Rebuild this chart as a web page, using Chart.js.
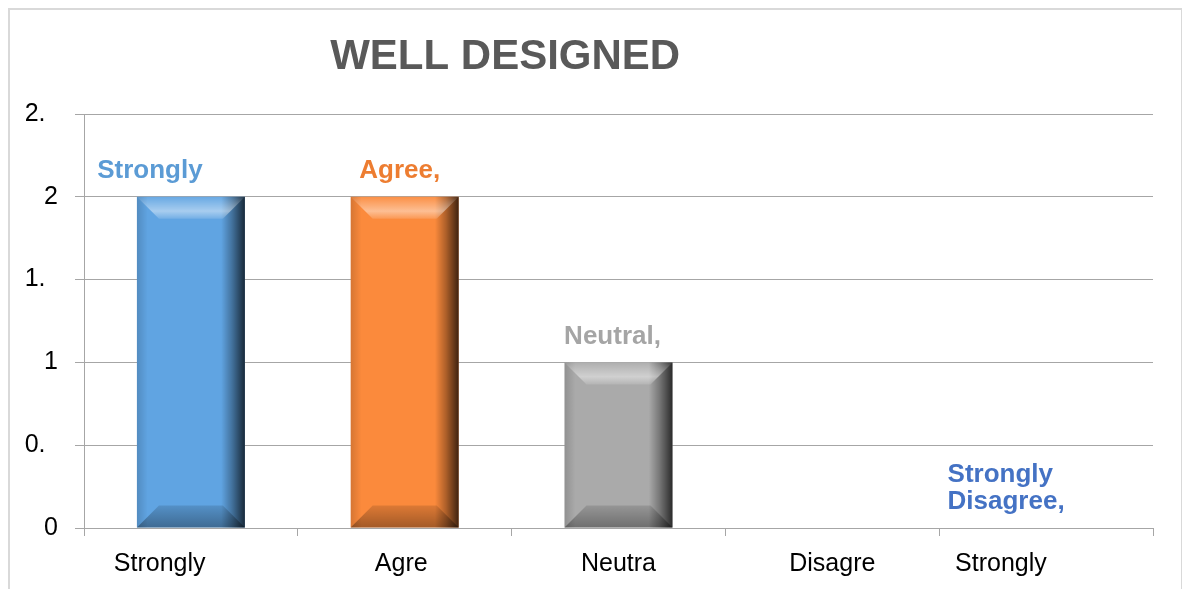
<!DOCTYPE html>
<html>
<head>
<meta charset="utf-8">
<script src="https://cdn.jsdelivr.net/npm/chart.js@4/dist/chart.umd.min.js"></script>
<style>
  body { margin: 0; background: #fff; }
  #wrap { position: relative; width: 1182px; height: 589px; overflow: hidden; }
  #frame { position: absolute; left: 8px; top: 8px; width: 1171px; height: 620px; border: 2px solid #d9d9d9; box-sizing: content-box; }
  #myChart { position: absolute; left: 0; top: 0; }
</style>
</head>
<body>
<div id="wrap">
  <div id="frame"></div>
  <canvas id="myChart" width="1182" height="589"></canvas>
</div>
<script>
var categories = ['Strongly Agree', 'Agree', 'Neutral', 'Disagree', 'Strongly Disagree'];
var values = [2, 2, 1, 0, 0];
var xTickLabels = ['Strongly', 'Agre', 'Neutra', 'Disagre', 'Strongly'];
var yTickLabels = ['0', '0.', '1', '1.', '2', '2.'];
var pointLabels = [['Strongly'], ['Agree,'], ['Neutral,'], [], ['Strongly', 'Disagree,']];
var chartTitle = 'WELL DESIGNED';

var barColors = ['#60a4e2', '#fb8a3c', '#aaaaaa', '#ffc000', '#4472c4'];
var labelColors = ['#5b9bd5', '#ed7d31', '#a5a5a5', '#ffc000', '#4472c4'];
var FONT = "'Liberation Sans', Arial, sans-serif";
// excel clips the wrapped axis labels off-centre, trailing spaces push them left
var tickPad = [9, 1, 0, 0, 13];

// bevelled look of the excel bars
var bevel = {
  id: 'bevel',
  afterDatasetsDraw: function(chart) {
    var c = chart.ctx;
    chart.getDatasetMeta(0).data.forEach(function(bar) {
      var p = bar.getProps(['x', 'y', 'base', 'width'], true);
      var l = p.x - p.width / 2, r = p.x + p.width / 2, t = p.y, b = p.base;
      if (b - t < 2) return;
      var s = Math.min(22, (b - t) / 2);
      c.save();
      var g = c.createLinearGradient(l, 0, r, 0);
      g.addColorStop(0, 'rgba(0,0,0,0.15)');
      g.addColorStop(0.1, 'rgba(0,0,0,0)');
      g.addColorStop(0.78, 'rgba(0,0,0,0)');
      g.addColorStop(0.88, 'rgba(0,0,0,0.3)');
      g.addColorStop(1, 'rgba(0,0,0,0.75)');
      c.fillStyle = g;
      c.fillRect(l, t, r - l, b - t);

      c.beginPath();
      c.moveTo(l, t); c.lineTo(r, t); c.lineTo(r - s, t + s); c.lineTo(l + s, t + s);
      c.closePath();
      g = c.createLinearGradient(0, t, 0, t + s);
      g.addColorStop(0, 'rgba(255,255,255,0.05)');
      g.addColorStop(0.65, 'rgba(255,255,255,0.45)');
      g.addColorStop(1, 'rgba(255,255,255,0.12)');
      c.fillStyle = g;
      c.fill();

      c.beginPath();
      c.moveTo(l, b); c.lineTo(r, b); c.lineTo(r - s, b - s); c.lineTo(l + s, b - s);
      c.closePath();
      g = c.createLinearGradient(0, b - s, 0, b);
      g.addColorStop(0, 'rgba(0,0,0,0.12)');
      g.addColorStop(1, 'rgba(0,0,0,0.35)');
      c.fillStyle = g;
      c.fill();
      c.restore();
    });
  }
};

var barLabels = {
  id: 'barLabels',
  afterDraw: function(chart, args, opts) {
    var c = chart.ctx;
    c.save();
    c.font = 'bold 26px ' + FONT;
    c.textBaseline = 'middle';
    chart.getDatasetMeta(0).data.forEach(function(bar, i) {
      var lines = pointLabels[i];
      if (!lines.length) return;
      var w = Math.max.apply(null, lines.map(function(s) { return c.measureText(s).width; }));
      var x0 = bar.x + opts.shift[i] - w / 2;
      c.fillStyle = labelColors[i];
      c.textAlign = 'left';
      for (var k = 0; k < lines.length; k++) {
        var y = bar.y - 26 - (lines.length - 1 - k) * 27;
        c.fillText(lines[k], x0, y);
      }
    });
    c.restore();
  }
};

var titleDraw = {
  id: 'titleDraw',
  afterDraw: function(chart) {
    var c = chart.ctx, a = chart.chartArea;
    c.save();
    c.font = 'bold 42px ' + FONT;
    c.fillStyle = '#595959';
    c.textAlign = 'center';
    c.textBaseline = 'middle';
    c.fillText(chartTitle, a.left + a.width * 0.394, 57);
    c.restore();
  }
};

new Chart(document.getElementById('myChart'), {
  type: 'bar',
  data: {
    labels: categories,
    datasets: [{
      label: chartTitle,
      data: values,
      backgroundColor: barColors,
      borderWidth: 0,
      categoryPercentage: 1,
      barPercentage: 0.505
    }]
  },
  options: {
    responsive: false,
    animation: false,
    layout: { padding: { left: 0, top: 114, right: 29, bottom: 0 } },
    plugins: {
      legend: { display: false },
      tooltip: { enabled: false },
      title: { display: false },
      barLabels: { shift: [-41, -5, -6, 0, -40] }
    },
    scales: {
      x: {
        afterFit: function(s) { s.height = 61; },
        grid: { drawOnChartArea: false, tickLength: 8, color: '#a6a6a6' },
        border: { color: '#a6a6a6' },
        ticks: {
          color: '#000',
          font: { family: FONT, size: 25 },
          padding: 13,
          maxRotation: 0,
          autoSkip: false,
          callback: function(v, i) { return xTickLabels[i] + ' '.repeat(tickPad[i]); }
        }
      },
      y: {
        min: 0,
        max: 2.5,
        afterFit: function(s) { s.width = 84; },
        grid: { tickLength: 9, color: '#a6a6a6' },
        border: { color: '#a6a6a6' },
        ticks: {
          stepSize: 0.5,
          color: '#000',
          font: { family: FONT, size: 25 },
          padding: 17,
          callback: function(v) {
            var t = yTickLabels[Math.round(v * 2)];
            return t.indexOf('.') > 0 ? t + '\u2002' : t;
          }
        }
      }
    }
  },
  plugins: [bevel, barLabels, titleDraw]
});
</script>
</body>
</html>
